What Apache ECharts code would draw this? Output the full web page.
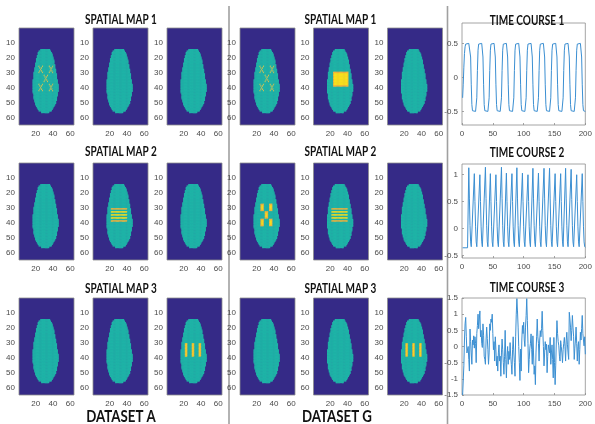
<!DOCTYPE html>
<html>
<head>
<meta charset="utf-8">
<script src="https://cdn.jsdelivr.net/npm/echarts@6/dist/echarts.min.js"></script>
<style>
  html, body { margin: 0; padding: 0; background: #ffffff; }
  #chart { width: 595px; height: 424px; }
</style>
</head>
<body>
<div id="chart"></div>
<script>
// ---------- data ----------
// brain mask: for each image row, first and last column inside the brain (64 x 64 image)
const maskRows  = [15,16,17,18,19,20,21,22,23,24,25,26,27,28,29,30,31,32,33,34,35,36,37,38,39,40,41,42,43,44,45,46,47,48,49,50,51,52,53,54,55,56];
const maskLeft  = [26,24,23,23,22,22,21,21,21,20,20,20,19,19,19,18,18,18,18,18,17,17,17,17,17,17,17,17,17,18,18,18,18,19,19,20,20,21,22,23,24,27];
const maskRight = [36,37,38,39,39,40,40,41,41,41,42,42,42,43,43,43,44,44,44,44,45,45,45,46,46,46,46,46,45,45,45,44,44,44,43,43,42,41,40,39,38,35];

// activation patterns (image column, image row)
const crossCentres  = [[26,28],[38,28],[32,34],[26,40],[38,40]];
const stripeRows    = [31,33,35,37,39];
const stripeCols    = [22,40];
const barStarts     = [22,30,38];
const barRows       = [31,39];
const blockCols     = [24,41];
const blockRows     = [30,39];
const squareCorners = [[25,28],[35,28],[30,33],[25,38],[35,38]];

const mapTitles  = ['SPATIAL MAP 1','SPATIAL MAP 2','SPATIAL MAP 3'];
const tcTitles   = ['TIME COURSE 1','TIME COURSE 2','TIME COURSE 3'];
const setLabels  = ['DATASET A','DATASET G'];
const xImgTicks  = [20,40,60];
const yImgTicks  = [10,20,30,40,50,60];

// time courses, 200 samples each
const tc1 = [
 -0.30,-0.10,0.15,0.35,0.45,0.49,0.50,0.50,0.50,0.50,0.50,0.50,0.48,0.30,-0.10,-0.40,-0.49,-0.50,-0.50,-0.50,
 -0.50,-0.50,-0.49,-0.30,0.10,0.40,0.49,0.50,0.50,0.50,0.50,0.50,0.48,0.30,-0.10,-0.40,-0.49,-0.50,-0.50,-0.50,
 -0.50,-0.50,-0.49,-0.30,0.10,0.40,0.49,0.50,0.50,0.50,0.50,0.50,0.48,0.30,-0.10,-0.40,-0.49,-0.50,-0.50,-0.50,
 -0.50,-0.50,-0.49,-0.30,0.10,0.40,0.49,0.50,0.50,0.50,0.50,0.50,0.48,0.30,-0.10,-0.40,-0.49,-0.50,-0.50,-0.50,
 -0.50,-0.50,-0.49,-0.30,0.10,0.40,0.49,0.50,0.50,0.50,0.50,0.50,0.48,0.30,-0.10,-0.40,-0.49,-0.50,-0.50,-0.50,
 -0.50,-0.50,-0.49,-0.30,0.10,0.40,0.49,0.50,0.50,0.50,0.50,0.50,0.48,0.30,-0.10,-0.40,-0.49,-0.50,-0.50,-0.50,
 -0.50,-0.50,-0.49,-0.30,0.10,0.40,0.49,0.50,0.50,0.50,0.50,0.50,0.48,0.30,-0.10,-0.40,-0.49,-0.50,-0.50,-0.50,
 -0.50,-0.50,-0.49,-0.30,0.10,0.40,0.49,0.50,0.50,0.50,0.50,0.50,0.48,0.30,-0.10,-0.40,-0.49,-0.50,-0.50,-0.50,
 -0.50,-0.50,-0.49,-0.30,0.10,0.40,0.49,0.50,0.50,0.50,0.50,0.50,0.48,0.30,-0.10,-0.40,-0.49,-0.50,-0.50,-0.50,
 -0.50,-0.50,-0.49,-0.30,0.10,0.40,0.49,0.50,0.50,0.50,0.50,0.50,0.48,0.30,-0.10,-0.40,-0.49,-0.50,-0.50,-0.50
];
const tc2 = [
 -0.36,-0.36,-0.36,-0.36,-0.36,-0.36,-0.36,-0.36,-0.36,-0.36,
 1.13,0.55,0.05,-0.25,-0.34,-0.36,-0.36,-0.36,-0.36,1.02,
 0.50,0.03,-0.25,-0.34,-0.36,-0.36,-0.36,-0.36,1.00,0.50,
 0.03,-0.25,-0.34,-0.36,-0.36,-0.36,-0.36,1.14,0.56,0.05,
 -0.25,-0.34,-0.36,-0.36,-0.36,1.02,0.50,0.03,-0.25,-0.34,
 -0.36,-0.36,-0.36,-0.36,1.00,0.50,0.03,-0.25,-0.34,-0.36,
 -0.36,-0.36,-0.36,1.14,0.56,0.05,-0.25,-0.34,-0.36,-0.36,
 -0.36,1.03,0.50,0.03,-0.25,-0.34,-0.36,-0.36,-0.36,-0.36,
 1.02,0.50,0.03,-0.25,-0.34,-0.36,-0.36,-0.36,1.13,0.55,
 0.05,-0.25,-0.34,-0.36,-0.36,-0.36,-0.36,1.03,0.50,0.03,
 -0.25,-0.34,-0.36,-0.36,-0.36,-0.36,1.00,0.50,0.03,-0.25,
 -0.34,-0.36,-0.36,-0.36,1.12,0.55,0.05,-0.25,-0.34,-0.36,
 -0.36,-0.36,-0.36,1.03,0.50,0.03,-0.25,-0.34,-0.36,-0.36,
 -0.36,-0.36,1.12,0.55,0.05,-0.25,-0.34,-0.36,-0.36,-0.36,
 -0.36,1.12,0.55,0.05,-0.25,-0.34,-0.36,-0.36,-0.36,-0.36,
 1.02,0.50,0.03,-0.25,-0.34,-0.36,-0.36,-0.36,-0.36,1.02,
 0.50,0.03,-0.25,-0.34,-0.36,-0.36,-0.36,1.12,0.55,0.05,
 -0.25,-0.34,-0.36,-0.36,-0.36,-0.36,1.10,0.54,0.05,-0.25,
 -0.34,-0.36,-0.36,-0.36,-0.36,1.00,0.50,0.03,-0.25,-0.34,
 -0.36,-0.36,-0.36,-0.36,1.02,0.50,0.03,-0.25,-0.34,-0.35
];
const tc3 = [
 -1.50,-1.45,-0.60,0.20,0.70,0.90,0.30,-0.20,-0.25,0.00,
 -0.40,-0.76,0.54,0.15,-0.20,-0.55,0.20,0.05,0.33,-0.05,
 0.30,0.10,-0.50,0.40,0.65,1.00,0.55,0.60,1.10,0.30,
 0.50,0.10,-0.03,0.70,0.35,-0.30,-0.40,-0.55,0.20,0.60,
 0.25,-0.10,-0.55,-0.20,0.70,0.50,0.85,0.75,1.00,0.40,
 -0.10,0.15,-0.45,0.30,-0.10,-0.60,-0.30,-0.76,-0.20,0.05,
 -0.45,-0.30,-0.92,-0.20,0.23,-0.10,-0.50,-0.86,-0.30,0.50,
 -0.40,-0.97,-0.30,0.00,-0.55,-0.15,-0.40,0.12,-0.30,-0.55,
 -0.86,-0.10,0.30,-0.20,-0.50,-0.92,0.30,1.00,1.48,1.10,
 0.60,0.00,-0.50,-1.05,-0.08,-0.76,0.20,0.65,0.40,0.75,
 0.20,0.00,0.60,0.96,1.48,0.80,0.10,-0.81,-0.40,-0.05,
 0.10,0.39,-0.10,-0.55,0.33,-0.20,-0.86,-0.60,-1.18,-0.20,
 0.30,0.85,0.30,0.10,-0.45,0.20,0.49,0.30,0.55,1.09,
 0.50,0.00,-0.60,-0.20,0.15,-0.10,0.07,-0.81,-0.30,0.05,
 0.10,-0.20,0.28,-0.55,-0.20,0.05,-0.40,-0.97,0.28,-0.50,
 -1.18,-0.60,0.20,0.80,0.40,0.15,0.02,-0.30,-0.45,0.18,
 0.00,-0.20,-0.50,-0.10,0.10,0.28,0.00,-0.45,0.20,0.44,
 0.05,-0.20,-0.40,1.06,0.85,0.60,0.18,0.50,0.96,0.60,
 0.30,-0.40,-0.05,0.20,0.60,0.10,-0.45,0.00,0.15,-0.55,
 -0.10,0.44,0.20,0.55,0.96,0.40,0.20,0.02,0.30,-0.24
];
const timeCourses = [tc1, tc2, tc3];

// which activation pattern sits in each spatial map panel: [dataset][map][component]
const panelPatterns = [
  [['cross', null, null], [null, 'stripes', null], [null, null, 'bars']],
  [['cross', 'block', null], ['squares', 'stripes', null], [null, null, 'bars']]
];

// ---------- helpers ----------
const BRAIN = 1, YELLOW = 2, ORANGE = 3, MARK = 4;

function patternCells(name) {
  const out = [];
  if (name === 'cross') {
    crossCentres.forEach(([c, r]) => {
      for (let k = -2; k <= 2; k++) { out.push([c + k, r + k, MARK]); out.push([c + k, r - k, MARK]); }
    });
  } else if (name === 'stripes') {
    stripeRows.forEach((r, i) => {
      const v = (i === 0 || i === stripeRows.length - 1) ? ORANGE : YELLOW;
      for (let c = stripeCols[0]; c <= stripeCols[1]; c++) out.push([c, r, v]);
    });
  } else if (name === 'bars') {
    barStarts.forEach(c0 => {
      for (let r = barRows[0]; r <= barRows[1]; r++)
        for (let c = c0; c < c0 + 3; c++) out.push([c, r, c === c0 + 1 ? YELLOW : ORANGE]);
    });
  } else if (name === 'block') {
    for (let r = blockRows[0]; r <= blockRows[1]; r++)
      for (let c = blockCols[0]; c <= blockCols[1]; c++) {
        const edge = r === blockRows[0] || r === blockRows[1] || c === blockCols[0] || c === blockCols[1];
        out.push([c, r, edge ? ORANGE : YELLOW]);
      }
  } else if (name === 'squares') {
    squareCorners.forEach(([c0, r0]) => {
      for (let r = r0; r < r0 + 5; r++)
        for (let c = c0; c < c0 + 4; c++) {
          const edge = r === r0 || r === r0 + 4 || c === c0 || c === c0 + 3;
          out.push([c, r, edge ? ORANGE : YELLOW]);
        }
    });
  }
  return out;
}

function mapData(pattern) {
  const cells = new Map();
  maskRows.forEach((r, i) => {
    for (let c = maskLeft[i]; c <= maskRight[i]; c++) cells.set(c + ',' + r, [c, r, BRAIN]);
  });
  if (pattern) patternCells(pattern).forEach(([c, r, v]) => cells.set(c + ',' + r, [c, r, v]));
  // heatmap data uses 0-based category indices
  return Array.from(cells.values()).map(([c, r, v]) => [c - 1, r - 1, v]);
}

// ---------- layout ----------
const axisFont = { fontFamily: 'Liberation Sans, Arial, sans-serif', fontSize: 8, color: '#4a4a4a' };
const imgCats = Array.from({ length: 64 }, (_, i) => String(i + 1));
const colLefts = [[19, 93, 167], [240, 313.5, 387.5]];
const rowTops = [28, 163, 298];
const PANEL_W = 55, PANEL_H = 97;

const grids = [], xAxes = [], yAxes = [], series = [], graphics = [];
const heatIdx = [];

for (let d = 0; d < 2; d++) {
  for (let m = 0; m < 3; m++) {
    for (let k = 0; k < 3; k++) {
      const gi = grids.length;
      grids.push({
        left: colLefts[d][k], top: rowTops[m], width: PANEL_W, height: PANEL_H,
        show: true, backgroundColor: '#352a87', borderColor: '#8e8e8e', borderWidth: 0.8
      });
      xAxes.push({
        gridIndex: gi, type: 'category', data: imgCats, position: 'bottom',
        axisLine: { show: false, onZero: false }, axisTick: { show: false }, splitLine: { show: false },
        axisLabel: Object.assign({ margin: 5, interval: (i, v) => xImgTicks.includes(+v) }, axisFont)
      });
      yAxes.push({
        gridIndex: gi, type: 'category', data: imgCats, inverse: true,
        axisLine: { show: false, onZero: false }, axisTick: { show: false }, splitLine: { show: false },
        axisLabel: Object.assign({ margin: 4, interval: (i, v) => yImgTicks.includes(+v) }, axisFont)
      });
      heatIdx.push(series.length);
      series.push({
        type: 'heatmap', xAxisIndex: gi, yAxisIndex: gi,
        data: mapData(panelPatterns[d][m][k]),
        progressive: 0, silent: true, animation: false
      });
    }
  }
}

// time course panels
const tcTops = [23, 164, 298];
const tcHeights = [102, 94, 97];
const tcRanges = [[-0.7, 0.8], [-0.55, 1.2], [-1.5, 1.5]];
const tcTicks = [[-0.5, 0, 0.5], [-0.5, 0, 0.5, 1], [-1.5, -1, -0.5, 0, 0.5, 1, 1.5]];
const timeTicks = [0, 50, 100, 150, 200];

for (let j = 0; j < 3; j++) {
  const gi = grids.length;
  grids.push({
    left: 462, top: tcTops[j], width: 129.5, height: tcHeights[j],
    show: true, backgroundColor: '#ffffff', borderColor: '#8e8e8e', borderWidth: 0.8
  });
  xAxes.push({
    gridIndex: gi, type: 'value', min: 0, max: 200, position: 'bottom',
    axisLine: { show: false, onZero: false }, splitLine: { show: false },
    axisTick: { show: true, inside: true, length: 2, lineStyle: { color: '#8e8e8e', width: 0.8 }, customValues: timeTicks },
    axisLabel: Object.assign({ margin: 5, customValues: timeTicks }, axisFont)
  });
  yAxes.push({
    gridIndex: gi, type: 'value', min: tcRanges[j][0], max: tcRanges[j][1], position: 'left',
    axisLine: { show: false, onZero: false }, splitLine: { show: false },
    axisTick: { show: true, inside: true, length: 2, lineStyle: { color: '#8e8e8e', width: 0.8 }, customValues: tcTicks[j] },
    axisLabel: Object.assign({ margin: 4, customValues: tcTicks[j] }, axisFont)
  });
  series.push({
    type: 'line', xAxisIndex: gi, yAxisIndex: gi,
    data: timeCourses[j].map((v, i) => [i + 1, v]),
    symbol: 'none', silent: true, animation: false,
    lineStyle: { color: '#3b8fd2', width: 1 }
  });
}

// titles and labels
function label(text, x, y, size, sx) {
  graphics.push({
    type: 'text', x: x, y: y, scaleX: sx, silent: true,
    style: { text: text, x: 0, y: 0, align: 'center', verticalAlign: 'middle',
             font: 'bold ' + size + 'px Lato, "Liberation Sans", sans-serif', fill: '#111111' }
  });
}
const titleYs = [20, 151.5, 289];
const setCentres = [121, 340.5];
for (let d = 0; d < 2; d++)
  for (let m = 0; m < 3; m++) label(mapTitles[m], setCentres[d], titleYs[m], 13, 0.77);
const tcTitleYs = [21, 153, 288];
for (let j = 0; j < 3; j++) label(tcTitles[j], 527, tcTitleYs[j], 13, 0.77);
label(setLabels[0], 121, 417, 17, 0.78);
label(setLabels[1], 337, 417, 17, 0.78);

// panel separators
[229, 447.5].forEach(x => graphics.push({
  type: 'line', silent: true,
  shape: { x1: x, y1: 6, x2: x, y2: 424 },
  style: { stroke: '#a0a0a0', lineWidth: 1.6 }
}));

const chart = echarts.init(document.getElementById('chart'), null, { renderer: 'canvas' });
chart.setOption({
  animation: false,
  grid: grids, xAxis: xAxes, yAxis: yAxes, series: series,
  visualMap: {
    type: 'piecewise', show: false, dimension: 2, seriesIndex: heatIdx,
    pieces: [
      { value: BRAIN, color: '#1fb3a7' },
      { value: YELLOW, color: '#f8df1e' },
      { value: ORANGE, color: '#f0b43c' },
      { value: MARK, color: '#e3c64a' }
    ]
  },
  graphic: graphics
});
</script>
</body>
</html>
